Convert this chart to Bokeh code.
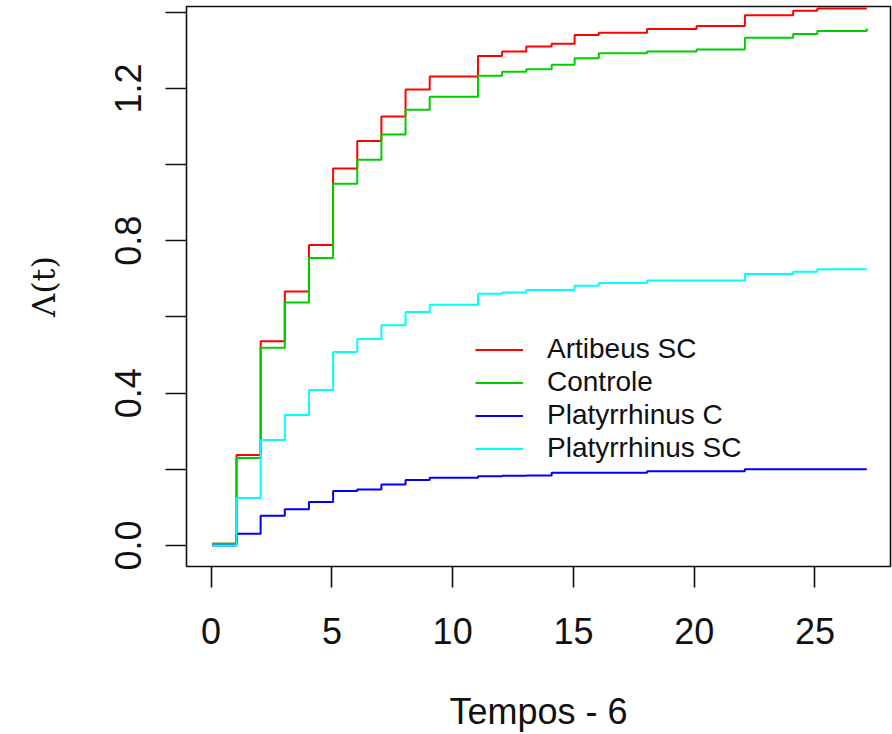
from bokeh.plotting import figure
from bokeh.models import Range1d, FixedTicker, Legend, LegendItem
from bokeh.embed import file_html
from bokeh.resources import INLINE

# Step times (Tempos - 6)
times = [0.05, 1.05, 2.05, 3.05, 4.05, 5.05, 6.05, 7.05, 8.05, 9.05, 11.05, 12.05,
         13.05, 14.1, 15.05, 16.05, 18.05, 20.1, 22.1, 24.1, 25.1, 27.15]

artibeus_sc = [0.005, 0.238, 0.536, 0.667, 0.789, 0.990, 1.062, 1.126, 1.197, 1.231, 1.285, 1.297,
               1.310, 1.317, 1.340, 1.346, 1.356, 1.364, 1.392, 1.404, 1.410, 1.410]
controle = [0.005, 0.230, 0.519, 0.638, 0.755, 0.950, 1.013, 1.079, 1.144, 1.178, 1.233, 1.244,
            1.250, 1.262, 1.279, 1.292, 1.297, 1.302, 1.333, 1.343, 1.351, 1.357]
platyrrhinus_c = [0.0, 0.031, 0.078, 0.095, 0.114, 0.143, 0.147, 0.160, 0.172, 0.178, 0.182, 0.183,
                  0.184, 0.191, 0.191, 0.191, 0.195, 0.195, 0.200, 0.200, 0.200, 0.200]
platyrrhinus_sc = [0.0, 0.125, 0.277, 0.343, 0.408, 0.508, 0.542, 0.578, 0.613, 0.632, 0.661, 0.664,
                   0.671, 0.671, 0.682, 0.689, 0.696, 0.696, 0.713, 0.719, 0.725, 0.725]

series_names = ["Artibeus SC", "Controle", "Platyrrhinus C", "Platyrrhinus SC"]
series_values = [artibeus_sc, controle, platyrrhinus_c, platyrrhinus_sc]
series_colors = ["#FF0000", "#00CD00", "#0000FF", "#00FFFF"]

x_ticks = [0, 5, 10, 15, 20, 25]
y_ticks = [0.0, 0.2, 0.4, 0.6, 0.8, 1.0, 1.2, 1.4]
y_tick_labels = {0.0: "0.0", 0.2: "", 0.4: "0.4", 0.6: "", 0.8: "0.8", 1.0: "", 1.2: "1.2", 1.4: ""}

p = figure(width=892, height=734, output_backend="svg", toolbar_location=None,
           x_range=Range1d(-1.02, 28.13), y_range=Range1d(-0.055, 1.415),
           min_border_left=186, min_border_right=2, min_border_top=6, min_border_bottom=168)
p.background_fill_color = "white"
p.border_fill_color = "white"
p.grid.visible = False
p.outline_line_color = "#111111"
p.outline_line_width = 1.6

renderers = []
for vals, col in zip(series_values, series_colors):
    r = p.step(times, vals, mode="after", line_color=col, line_width=2)
    renderers.append(r)

legend = Legend(items=[LegendItem(label=n, renderers=[r]) for n, r in zip(series_names, renderers)],
                location=(289, 102), padding=0, margin=0, spacing=1,
                glyph_width=48, glyph_height=31, label_height=31, label_standoff=24,
                label_text_font="Liberation Sans", label_text_font_size="28px",
                label_text_color="#111111", border_line_color=None, background_fill_alpha=0)
p.add_layout(legend, "center")

font = "Liberation Sans"
for ax in (p.xaxis[0], p.yaxis[0]):
    ax.axis_line_color = None
    ax.major_tick_out = 21
    ax.major_tick_in = 0
    ax.minor_tick_out = 0
    ax.minor_tick_in = 0
    ax.major_tick_line_color = "#111111"
    ax.major_tick_line_width = 1.6
    ax.major_label_text_font = font
    ax.major_label_text_font_size = "36px"
    ax.major_label_text_color = "#111111"

p.xaxis[0].ticker = FixedTicker(ticks=x_ticks)
p.xaxis[0].major_label_standoff = 30
p.xaxis[0].axis_label = "Tempos - 6"
p.xaxis[0].axis_label_text_font = font
p.xaxis[0].axis_label_text_font_size = "36px"
p.xaxis[0].axis_label_text_font_style = "normal"
p.xaxis[0].axis_label_text_color = "#111111"
p.xaxis[0].axis_label_standoff = 44

p.yaxis[0].ticker = FixedTicker(ticks=y_ticks)
p.yaxis[0].major_label_overrides = y_tick_labels
p.yaxis[0].major_label_orientation = "vertical"
p.yaxis[0].major_label_standoff = 24
p.yaxis[0].axis_label = "Λ(t)"
p.yaxis[0].axis_label_text_font = "DejaVu Serif"
p.yaxis[0].axis_label_text_font_size = "32px"
p.yaxis[0].axis_label_text_font_style = "normal"
p.yaxis[0].axis_label_text_color = "#111111"
p.yaxis[0].axis_label_standoff = 50

open("out.html", "w").write(file_html(p, INLINE))
